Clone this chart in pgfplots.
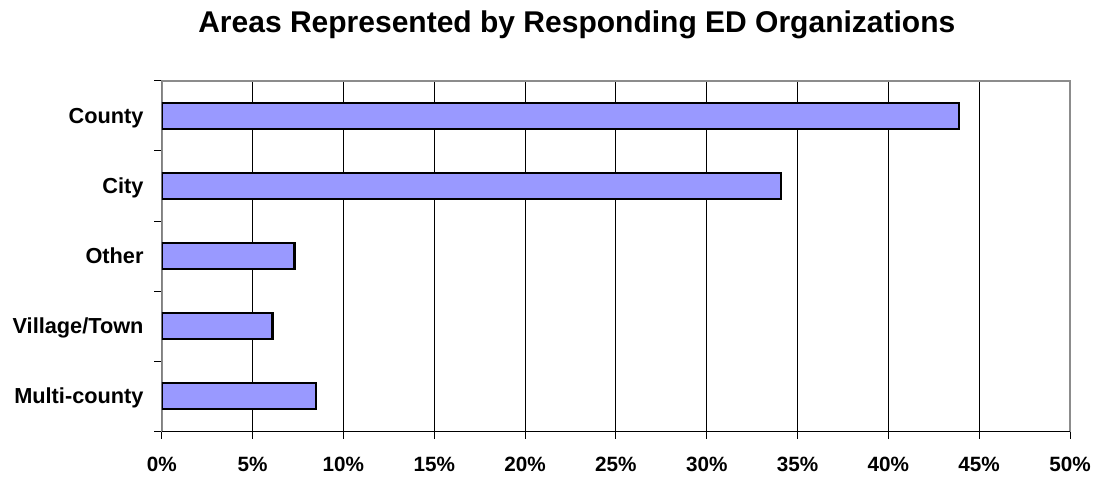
\documentclass[border=0pt]{standalone}
\usepackage{fontspec}
\setmainfont{Liberation Sans}
\usepackage{pgfplots}
\pgfplotsset{compat=1.18}
\definecolor{barblue}{HTML}{9999FF}
\definecolor{framegray}{HTML}{8C8C8C}
\begin{document}
\begin{tikzpicture}
\useasboundingbox (-121.3pt,-34.7pt) rectangle (700.5pt,323.5pt);
\begin{axis}[
    at={(0,0)}, anchor=south west,
    scale only axis,
    width=681pt, height=263pt,
    xbar,
    bar width=19.5pt,
    xmin=0, xmax=50,
    ymin=-0.5, ymax=4.5,
    xtick={0,5,...,50},
    xticklabel={\pgfmathprintnumber{\tick}\%},
    /pgf/number format/assume math mode=true,
    ytick={0,1,2,3,4},
    yticklabels={Multi-county,Village/Town,Other,City,County},
    minor ytick={-0.5,0.5,1.5,2.5,3.5,4.5},
    major y tick style={draw=none},
    minor y tick style={draw=black, line width=0.6pt},
    major x tick style={draw=black, line width=0.6pt},
    major tick length=5.5pt,
    minor tick length=5.5pt,
    tick align=outside,
    xtick pos=bottom, ytick pos=left,
    xmajorgrids,
    major x grid style={black, line width=0.7pt},
    axis line style={framegray, line width=1.3pt},
    xticklabel style={font=\bfseries\fontsize{15.5}{18}\selectfont, inner sep=0pt, anchor=base, yshift=-24.5pt},
    yticklabel style={font=\bfseries\fontsize{16.3}{19}\selectfont, inner sep=0pt, anchor=base east, xshift=-8pt, yshift=-5.6pt},
    title={Areas Represented by Responding ED Organizations},
    title style={font=\bfseries\fontsize{22.5}{27}\selectfont, at={(0.457,1.137)}, anchor=base, inner sep=0pt, yshift=-6pt},
]
\addplot[fill=barblue, draw=black, line width=1.7pt] coordinates {
    (8.5,0) (6.1,1) (7.3,2) (34.1,3) (43.9,4)
};
\draw[black!80, line width=0.8pt] (rel axis cs:0,1) -- (rel axis cs:0,0);
\draw[black, line width=0.8pt] (rel axis cs:0,0) -- (rel axis cs:1,0);
\end{axis}
\end{tikzpicture}
\end{document}
